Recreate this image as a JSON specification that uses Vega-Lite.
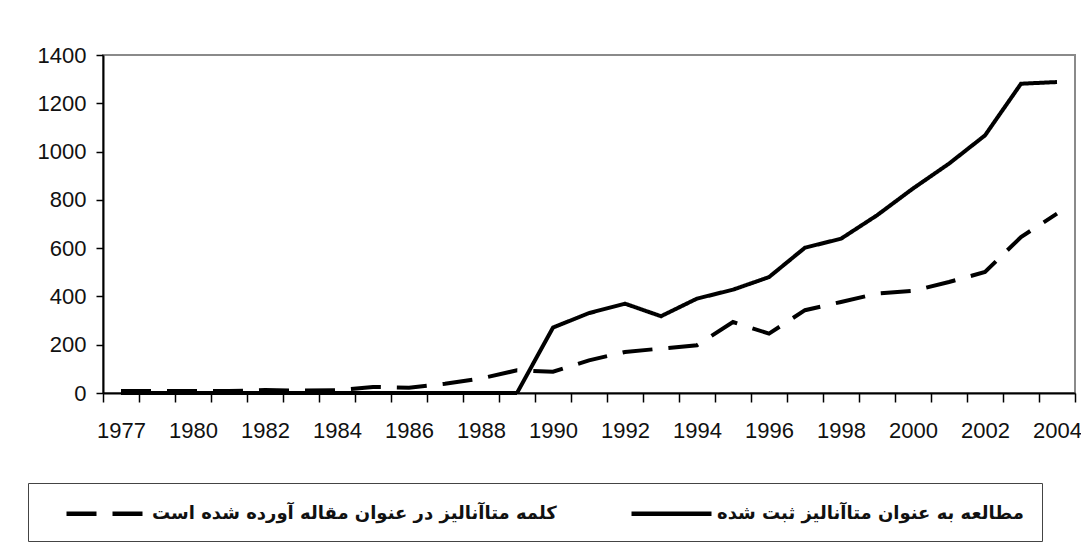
{
  "$schema": "https://vega.github.io/schema/vega-lite/v6.json",
  "width": 972,
  "height": 338,
  "autosize": {"type": "none"},
  "padding": {"left": 103, "top": 55, "right": 6, "bottom": 153},
  "background": "white",
  "config": {
    "view": {"stroke": "#8a8a8a", "strokeWidth": 2},
    "font": "Liberation Sans"
  },
  "data": {
    "values": [
      {"year": 1977, "series": "s", "value": 0},
      {"year": 1979, "series": "s", "value": 0},
      {"year": 1980, "series": "s", "value": 0},
      {"year": 1981, "series": "s", "value": 0},
      {"year": 1982, "series": "s", "value": 0},
      {"year": 1983, "series": "s", "value": 0},
      {"year": 1984, "series": "s", "value": 0},
      {"year": 1985, "series": "s", "value": 0},
      {"year": 1986, "series": "s", "value": 0},
      {"year": 1987, "series": "s", "value": 0},
      {"year": 1988, "series": "s", "value": 0},
      {"year": 1989, "series": "s", "value": 0},
      {"year": 1990, "series": "s", "value": 271},
      {"year": 1991, "series": "s", "value": 331},
      {"year": 1992, "series": "s", "value": 370},
      {"year": 1993, "series": "s", "value": 318},
      {"year": 1994, "series": "s", "value": 391},
      {"year": 1995, "series": "s", "value": 428},
      {"year": 1996, "series": "s", "value": 480},
      {"year": 1997, "series": "s", "value": 602},
      {"year": 1998, "series": "s", "value": 639},
      {"year": 1999, "series": "s", "value": 736},
      {"year": 2000, "series": "s", "value": 847},
      {"year": 2001, "series": "s", "value": 950},
      {"year": 2002, "series": "s", "value": 1067},
      {"year": 2003, "series": "s", "value": 1281},
      {"year": 2004, "series": "s", "value": 1288},
      {"year": 1977, "series": "d", "value": 8},
      {"year": 1979, "series": "d", "value": 8},
      {"year": 1980, "series": "d", "value": 8},
      {"year": 1981, "series": "d", "value": 8},
      {"year": 1982, "series": "d", "value": 12},
      {"year": 1983, "series": "d", "value": 10},
      {"year": 1984, "series": "d", "value": 12},
      {"year": 1985, "series": "d", "value": 25},
      {"year": 1986, "series": "d", "value": 22},
      {"year": 1987, "series": "d", "value": 38},
      {"year": 1988, "series": "d", "value": 60},
      {"year": 1989, "series": "d", "value": 94},
      {"year": 1990, "series": "d", "value": 88},
      {"year": 1991, "series": "d", "value": 135},
      {"year": 1992, "series": "d", "value": 170},
      {"year": 1993, "series": "d", "value": 184},
      {"year": 1994, "series": "d", "value": 198},
      {"year": 1995, "series": "d", "value": 294},
      {"year": 1996, "series": "d", "value": 246},
      {"year": 1997, "series": "d", "value": 343},
      {"year": 1998, "series": "d", "value": 377},
      {"year": 1999, "series": "d", "value": 412},
      {"year": 2000, "series": "d", "value": 423},
      {"year": 2001, "series": "d", "value": 460},
      {"year": 2002, "series": "d", "value": 501},
      {"year": 2003, "series": "d", "value": 646},
      {"year": 2004, "series": "d", "value": 743}
    ]
  },
  "mark": {"type": "line", "color": "black", "strokeWidth": 4, "strokeCap": "butt"},
  "encoding": {
    "x": {
      "field": "year",
      "type": "ordinal",
      "bandPosition": 0.5,
      "scale": {"type": "band", "paddingInner": 0, "paddingOuter": 0},
      "axis": {
        "title": null,
        "labelAngle": 0,
        "tickBand": "extent",
        "labelOverlap": false,
        "labelExpr": "(datum.value == 1977 || (datum.value >= 1980 && datum.value % 2 == 0)) ? datum.label : ''",
        "labelFont": "Liberation Sans",
        "labelFontSize": 22,
        "labelColor": "#111",
        "labelPadding": 18,
        "tickSize": 9,
        "tickColor": "black",
        "tickWidth": 1.5,
        "domainColor": "black",
        "domainWidth": 2,
        "grid": false
      }
    },
    "y": {
      "field": "value",
      "type": "quantitative",
      "scale": {"domain": [0, 1400], "nice": false},
      "axis": {
        "title": null,
        "format": "d",
        "values": [0, 200, 400, 600, 800, 1000, 1200, 1400],
        "labelFont": "Liberation Sans",
        "labelFontSize": 22,
        "labelColor": "#111",
        "labelPadding": 10,
        "tickSize": 7,
        "tickColor": "black",
        "tickWidth": 1.5,
        "domainColor": "black",
        "domainWidth": 2,
        "grid": false
      }
    },
    "strokeDash": {
      "field": "series",
      "type": "nominal",
      "scale": {"domain": ["d", "s"], "range": [[30, 16], [1, 0]]},
      "legend": {
        "title": null,
        "orient": "none",
        "legendX": -75,
        "legendY": 428,
        "direction": "horizontal",
        "labelExpr": "datum.value == 'd' ? 'کلمه متاآنالیز در عنوان مقاله آورده شده است' : 'مطالعه به عنوان متاآنالیز ثبت شده'",
        "labelFont": "DejaVu Sans",
        "labelFontSize": 18,
        "labelFontWeight": "bold",
        "labelColor": "#111",
        "labelLimit": 700,
        "symbolType": "M-4,0H4",
        "symbolSize": 400,
        "symbolStrokeWidth": 4.5,
        "symbolStrokeColor": "black",
        "symbolFillColor": "transparent",
        "symbolOffset": 48,
        "labelOffset": 33,
        "columnPadding": 54,
        "padding": 18,
        "strokeColor": "#444",
        "fillColor": "white"
      }
    }
  }
}
